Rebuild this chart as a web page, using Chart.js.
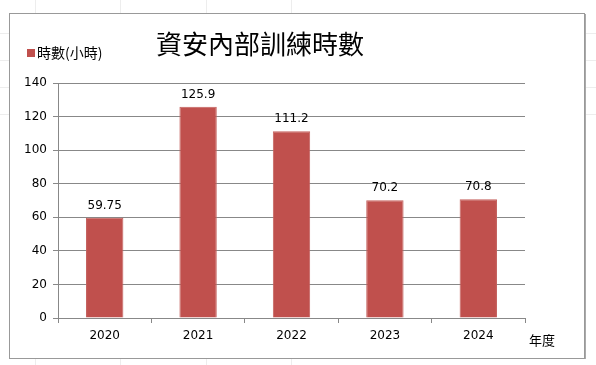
<!DOCTYPE html>
<html>
<head>
<meta charset="utf-8">
<script src="https://cdn.jsdelivr.net/npm/chart.js@4"></script>
<style>
  html, body { margin: 0; padding: 0; background: #fff; }
  #wrap { width: 596px; height: 365px; }
</style>
</head>
<body>
<div id="wrap"><canvas id="c" width="596" height="365"></canvas></div>
<script>
// 資料
const years = ['2020', '2021', '2022', '2023', '2024'];
const hours = [59.75, 125.9, 111.2, 70.2, 70.8];
const hourLabels = ['59.75', '125.9', '111.2', '70.2', '70.8'];
const seriesName = '時數(小時)';
const chartTitle = '資安內部訓練時數';
const xTitle = '年度';

const barColor = '#C0504D';
const tickFont = { family: 'DejaVu Sans', size: 12 };

// 外框、標題、圖例、數值標籤
const decor = {
    id: 'decor',
    beforeDraw(chart) {
        const ctx = chart.ctx;
        ctx.save();
        ctx.fillStyle = '#fff';
        ctx.fillRect(0, 0, chart.width, chart.height);
        // 背景淡格線
        ctx.strokeStyle = '#ededed';
        ctx.lineWidth = 1;
        [35, 120, 206, 291].forEach(x => {
            ctx.beginPath(); ctx.moveTo(x + 0.5, 0); ctx.lineTo(x + 0.5, 365); ctx.stroke();
        });
        [33, 60, 87, 114].forEach(y => {
            ctx.beginPath(); ctx.moveTo(0, y + 0.5); ctx.lineTo(596, y + 0.5); ctx.stroke();
        });
        ctx.fillStyle = '#fff';
        ctx.fillRect(9, 13, 575, 345);
        ctx.strokeStyle = '#999';
        ctx.lineWidth = 1;
        ctx.strokeRect(9.5, 13.5, 575, 345);
        ctx.strokeStyle = '#aaa';
        ctx.beginPath(); ctx.moveTo(585.5, 14); ctx.lineTo(585.5, 359); ctx.stroke();
        ctx.restore();
    },
    afterDraw(chart) {
        const ctx = chart.ctx;
        ctx.save();
        ctx.fillStyle = '#000';
        ctx.textAlign = 'center';
        ctx.textBaseline = 'middle';
        ctx.font = '26px "Noto Sans CJK TC"';
        ctx.fillText(chartTitle, 260, 44);

        ctx.fillStyle = barColor;
        ctx.fillRect(27, 49, 8, 8);
        ctx.fillStyle = '#000';
        ctx.textAlign = 'left';
        ctx.font = '14px "Noto Sans CJK TC"';
        ctx.fillText(seriesName, 37, 53);

        ctx.font = '13px "Noto Sans CJK TC"';
        ctx.fillText(xTitle, 529, 340);

        const meta = chart.getDatasetMeta(0);
        ctx.textAlign = 'center';
        ctx.textBaseline = 'bottom';
        ctx.font = '12px "DejaVu Sans"';
        meta.data.forEach((bar, i) => {
            ctx.fillText(hourLabels[i], bar.x, bar.y - 6);
        });
        ctx.restore();
    }
};

new Chart(document.getElementById('c'), {
    type: 'bar',
    data: {
        labels: years,
        datasets: [{
            label: seriesName,
            data: hours,
            backgroundColor: barColor,
            borderColor: '#c4605d',
            borderWidth: 1,
            categoryPercentage: 1,
            barPercentage: 0.4
        }]
    },
    options: {
        responsive: false,
        animation: false,
        layout: { padding: { left: 10, right: 71, top: 83, bottom: 17 } },
        plugins: {
            legend: { display: false },
            title: { display: false },
            tooltip: { enabled: false }
        },
        scales: {
            x: {
                afterFit(s) { s.height = 30; },
                grid: {
                    drawOnChartArea: false,
                    offset: true,
                    color: '#888',
                    tickLength: 5
                },
                border: { color: '#888' },
                ticks: { color: '#000', font: tickFont, padding: 6 }
            },
            y: {
                min: 0,
                max: 140,
                afterFit(s) { s.width = 48; },
                grid: { color: '#888', tickLength: 5 },
                border: { color: '#888' },
                ticks: { stepSize: 20, color: '#000', font: tickFont, padding: 6 }
            }
        }
    },
    plugins: [decor]
});
</script>
</body>
</html>
